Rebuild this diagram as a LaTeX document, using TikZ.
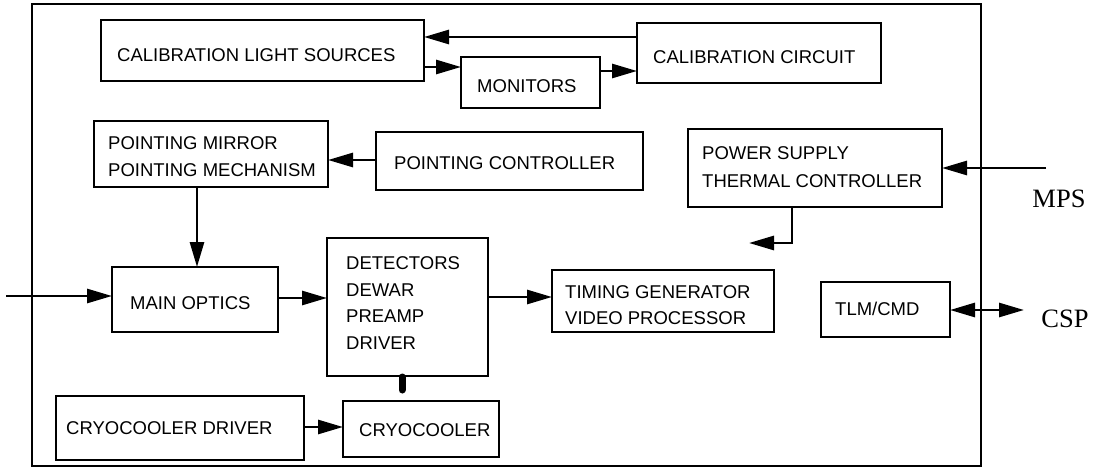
\documentclass[tikz,border=0pt]{standalone}
\usepackage{fontspec}
\setmainfont{Liberation Sans}
\newfontfamily\serifl{Liberation Serif}
\usetikzlibrary{arrows.meta}
\begin{document}
\begin{tikzpicture}[x=1pt,y=-1pt,
  box/.style={draw, line width=2.8pt, rectangle, inner sep=0pt, outer sep=0pt, anchor=north west},
  lbl/.style={anchor=west, inner sep=0pt, font=\fontsize{18.5}{22}\selectfont, align=left},
  extlbl/.style={inner sep=0pt, font=\serifl\fontsize{26.5}{30}\selectfont},
  arr/.style={line width=2.8pt, -{Triangle[length=25pt,width=14pt]}},
  darr/.style={line width=2.8pt, {Triangle[length=25pt,width=14pt]}-{Triangle[length=25pt,width=14pt]}},
  thick link/.style={line width=7pt, line cap=round}]
\useasboundingbox (0,0) rectangle (1098,468);
% frame
\node[box, minimum width=949pt, minimum height=462pt] (frame) at (32,4) {};
% boxes
\node[box, minimum width=323pt, minimum height=61pt] (cls) at (101,20) {};
\node[box, minimum width=139pt, minimum height=51pt] (mon) at (461,57) {};
\node[box, minimum width=244pt, minimum height=60pt] (cc) at (637,23) {};
\node[box, minimum width=234pt, minimum height=66pt] (pm) at (94,121) {};
\node[box, minimum width=267pt, minimum height=58pt] (pc) at (376,132) {};
\node[box, minimum width=254pt, minimum height=78pt] (ps) at (688,129) {};
\node[box, minimum width=166pt, minimum height=65pt] (mo) at (112,267) {};
\node[box, minimum width=161pt, minimum height=138pt] (det) at (327,238) {};
\node[box, minimum width=222pt, minimum height=62pt] (tg) at (552,270) {};
\node[box, minimum width=129pt, minimum height=55pt] (tlm) at (821,282) {};
\node[box, minimum width=248pt, minimum height=64pt] (cd) at (56,396) {};
\node[box, minimum width=156pt, minimum height=56pt] (cryo) at (343,401) {};
% texts
\node[lbl] (tcls) at (117,55) {CALIBRATION LIGHT SOURCES};
\node[lbl] (tmon) at (477,86) {MONITORS};
\node[lbl] (tcc) at (653,57) {CALIBRATION CIRCUIT};
\node[lbl, font=\fontsize{18.5}{27}\selectfont] (tpm) at (108,156.5) {POINTING MIRROR\\POINTING MECHANISM};
\node[lbl] (tpc) at (394,163) {POINTING CONTROLLER};
\node[lbl, font=\fontsize{18.5}{28}\selectfont] (tps) at (702,167) {POWER SUPPLY\\THERMAL CONTROLLER};
\node[lbl] (tmo) at (130,303) {MAIN OPTICS};
\node[lbl, font=\fontsize{18.5}{26.7}\selectfont] (tdet) at (346,303) {DETECTORS\\DEWAR\\PREAMP\\DRIVER};
\node[lbl, font=\fontsize{18.5}{26}\selectfont] (ttg) at (565,305) {TIMING GENERATOR\\VIDEO PROCESSOR};
\node[lbl] (ttlm) at (835,309) {TLM/CMD};
\node[lbl] (tcd) at (66,428) {CRYOCOOLER DRIVER};
\node[lbl] (tcryo) at (359,430) {CRYOCOOLER};
\node[extlbl] (mps) at (1059,199) {MPS};
\node[extlbl] (csp) at (1065,319) {CSP};
% free ends
\coordinate (mpsin) at (1046,168);
\coordinate (optin) at (6,296);
\coordinate (psout) at (749,243);
\coordinate (cspout) at (1024,310);
% connectors
\draw[arr] (cc.west |- 0,37) -- (cls.east |- 0,37);
\draw[arr] (cls.east |- 0,67) -- (mon.west |- 0,67);
\draw[arr] (mon.east |- 0,71) -- (cc.west |- 0,71);
\draw[arr] (pc.west |- 0,160) -- (pm.east |- 0,160);
\draw[arr] (pm.south -| 197,0) -- (mo.north -| 197,0);
\draw[arr] (mpsin) -- (ps.east |- mpsin);
\draw[arr] (ps.south -| 792,0) |- (psout);
\draw[arr] (optin) -- (mo.west |- optin);
\draw[arr] (mo.east |- 0,298) -- (det.west |- 0,298);
\draw[arr] (det.east |- 0,297) -- (tg.west |- 0,297);
\draw[darr] (tlm.east |- cspout) -- (cspout);
\draw[arr] (cd.east |- 0,427) -- (cryo.west |- 0,427);
\draw[thick link] ([yshift=-1pt]det.south -| 402,0) -- ([yshift=11pt]cryo.north -| 402,0);
\end{tikzpicture}
\end{document}
